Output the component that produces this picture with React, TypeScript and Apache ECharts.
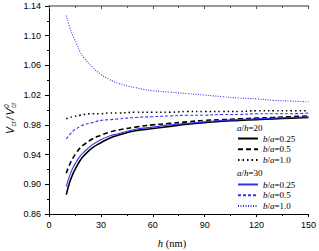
import React, { useEffect, useRef } from "react";
import * as echarts from "echarts";

const hValues = [10, 12, 14, 16, 18, 20, 25, 30, 35, 40, 50, 60, 70, 80, 90, 100, 110, 120, 130, 140, 150];

// a/h = 20
const ah20_b025 = [0.886, 0.903, 0.915, 0.924, 0.932, 0.938, 0.949, 0.956, 0.962, 0.966, 0.972, 0.975, 0.978, 0.981, 0.983, 0.985, 0.986, 0.987, 0.988, 0.989, 0.990];
const ah20_b05 = [0.915, 0.927, 0.936, 0.943, 0.949, 0.953, 0.961, 0.966, 0.970, 0.973, 0.977, 0.980, 0.982, 0.984, 0.986, 0.987, 0.988, 0.989, 0.990, 0.991, 0.992];
const ah20_b10 = [0.988, 0.990, 0.991, 0.992, 0.993, 0.994, 0.995, 0.995, 0.996, 0.996, 0.997, 0.997, 0.997, 0.998, 0.998, 0.998, 0.998, 0.999, 0.999, 0.999, 0.999];
// a/h = 30
const ah30_b025 = [0.897, 0.912, 0.923, 0.931, 0.938, 0.943, 0.953, 0.960, 0.965, 0.968, 0.974, 0.977, 0.980, 0.982, 0.984, 0.986, 0.987, 0.988, 0.989, 0.990, 0.991];
const ah30_b05 = [0.961, 0.967, 0.972, 0.975, 0.978, 0.980, 0.983, 0.986, 0.987, 0.988, 0.990, 0.991, 0.992, 0.993, 0.993, 0.994, 0.994, 0.995, 0.995, 0.995, 0.996];
const ah30_b10 = [1.127, 1.111, 1.099, 1.089, 1.078, 1.071, 1.058, 1.048, 1.041, 1.036, 1.030, 1.026, 1.024, 1.022, 1.020, 1.018, 1.016, 1.015, 1.013, 1.012, 1.011];

const xTicks = { min: 0, max: 150, interval: 30 };
const yTicks = { min: 0.86, max: 1.14, interval: 0.04 };

const BLUE = "#3434ee";
const SERIF = "'Liberation Serif', 'Times New Roman', serif";
const SANS = "'Liberation Sans', Arial, sans-serif";

const seriesDefs = [
  { name: "s20a", label: "{i|b}/{i|a}=0.25", data: ah20_b025, color: "#000", width: 1.6, type: "solid" as any },
  { name: "s20b", label: "{i|b}/{i|a}=0.5", data: ah20_b05, color: "#000", width: 1.6, type: [5, 3] as any },
  { name: "s20c", label: "{i|b}/{i|a}=1.0", data: ah20_b10, color: "#000", width: 1.6, type: [1.5, 3] as any },
  { name: "s30a", label: "{i|b}/{i|a}=0.25", data: ah30_b025, color: BLUE, width: 1.1, type: "solid" as any },
  { name: "s30b", label: "{i|b}/{i|a}=0.5", data: ah30_b05, color: BLUE, width: 1.1, type: [3, 2] as any },
  { name: "s30c", label: "{i|b}/{i|a}=1.0", data: ah30_b10, color: BLUE, width: 1.1, type: [1, 1.5] as any },
];

export default function App() {
  const ref = useRef<HTMLDivElement>(null);
  useEffect(() => {
    if (!ref.current) return;
    const chart = echarts.init(ref.current, undefined, { renderer: "svg" });
    const labelMap: Record<string, string> = {};
    seriesDefs.forEach((s) => (labelMap[s.name] = s.label));
    const legendText = {
      fontFamily: SERIF,
      fontSize: 9,
      color: "#000",
      rich: { i: { fontFamily: SERIF, fontSize: 9, fontStyle: "italic", color: "#000" } },
    };
    const commonLegend = {
      orient: "vertical",
      left: 237,
      padding: 0,
      itemWidth: 20,
      itemHeight: 10,
      itemGap: 1.7,
      itemStyle: { opacity: 0, color: "transparent", borderWidth: 0 },
      formatter: (n: string) => labelMap[n],
      textStyle: legendText,
    };
    const option: any = {
      animation: false,
      grid: { left: 49, right: 9, top: 6, bottom: 37, containLabel: false },
      legend: [
        { ...commonLegend, top: 134, data: ["s20a", "s20b", "s20c"] },
        { ...commonLegend, top: 180, data: ["s30a", "s30b", "s30c"] },
      ],
      xAxis: [
        {
          type: "value",
          ...xTicks,
          position: "bottom",
          axisLine: { lineStyle: { color: "#000", width: 1 } },
          axisTick: { inside: false, length: 3, lineStyle: { color: "#000" } },
          minorTick: { show: true, splitNumber: 2, length: 2, lineStyle: { color: "#000" } },
          axisLabel: { margin: 6, fontSize: 9, fontFamily: SANS, color: "#000" },
          splitLine: { show: false },
        },
        {
          type: "value",
          ...xTicks,
          position: "top",
          axisLine: { lineStyle: { color: "#777", width: 1.5 } },
          axisTick: { inside: true, length: 3, lineStyle: { color: "#555" } },
          minorTick: { show: true, splitNumber: 2, length: 2, lineStyle: { color: "#555" } },
          axisLabel: { show: false },
          splitLine: { show: false },
        },
      ],
      yAxis: [
        {
          type: "value",
          ...yTicks,
          position: "left",
          axisLine: { show: true, lineStyle: { color: "#000", width: 1 } },
          axisTick: { show: true, inside: false, length: 4, lineStyle: { color: "#000" } },
          minorTick: { show: true, splitNumber: 2, length: 2, lineStyle: { color: "#000" } },
          axisLabel: {
            margin: 8,
            fontSize: 9,
            fontFamily: SANS,
            color: "#000",
            formatter: (v: number) => v.toFixed(2),
          },
          splitLine: { show: false },
        },
        {
          type: "value",
          ...yTicks,
          position: "right",
          axisLine: { show: true, lineStyle: { color: "#000", width: 1 } },
          axisTick: { show: true, inside: true, length: 3, lineStyle: { color: "#000" } },
          minorTick: { show: true, splitNumber: 2, length: 2, lineStyle: { color: "#000" } },
          axisLabel: { show: false },
          splitLine: { show: false },
        },
      ],
      series: seriesDefs.map((s) => ({
        name: s.name,
        type: "line",
        smooth: true,
        symbol: "none",
        xAxisIndex: 0,
        yAxisIndex: 0,
        data: hValues.map((h, i) => [h, s.data[i]]),
        lineStyle: { color: s.color, width: s.width, type: s.type },
        itemStyle: { color: s.color },
      })),
      graphic: [
        {
          type: "text",
          left: 237,
          top: 123,
          style: {
            text: "{i|a}/{i|h}=20",
            fontFamily: SERIF,
            fontSize: 9,
            fill: "#000",
            rich: { i: { fontFamily: SERIF, fontSize: 9, fontStyle: "italic", fill: "#000" } },
          },
        },
        {
          type: "text",
          left: 237,
          top: 168,
          style: {
            text: "{i|a}/{i|h}=30",
            fontFamily: SERIF,
            fontSize: 9,
            fill: "#000",
            rich: { i: { fontFamily: SERIF, fontSize: 9, fontStyle: "italic", fill: "#000" } },
          },
        },
        {
          type: "text",
          x: 172,
          y: 243,
          style: {
            text: "{i|h} (nm)",
            fontFamily: SERIF,
            fontSize: 10.5,
            fill: "#000",
            align: "center",
            verticalAlign: "middle",
            rich: { i: { fontFamily: SERIF, fontSize: 10.5, fontStyle: "italic", fill: "#000" } },
          },
        },
        {
          type: "group",
          x: 10,
          y: 134,
          rotation: Math.PI / 2,
          children: [
            { type: "text", x: 0, y: 0, style: { text: "V", fontFamily: SANS, fontSize: 10.5, fontStyle: "italic", fill: "#000", verticalAlign: "middle" } },
            { type: "text", x: 7.5, y: 3, style: { text: "cr", fontFamily: SANS, fontSize: 6.5, fill: "#000", verticalAlign: "middle" } },
            { type: "text", x: 14, y: 0, style: { text: "/", fontFamily: SANS, fontSize: 10.5, fontStyle: "italic", fill: "#000", verticalAlign: "middle" } },
            { type: "text", x: 18.5, y: 0, style: { text: "V", fontFamily: SANS, fontSize: 10.5, fontStyle: "italic", fill: "#000", verticalAlign: "middle" } },
            { type: "text", x: 26, y: -4, style: { text: "0", fontFamily: SANS, fontSize: 6.5, fontStyle: "italic", fill: "#000", verticalAlign: "middle" } },
            { type: "text", x: 26, y: 3, style: { text: "cr", fontFamily: SANS, fontSize: 6.5, fill: "#000", verticalAlign: "middle" } },
          ],
        },
      ],
    };
    chart.setOption(option);
    return () => chart.dispose();
  }, []);
  return (
    <div
      ref={ref}
      style={{ position: "fixed", left: 0, top: 0, width: 319, height: 251, background: "#fff" }}
    />
  );
}
